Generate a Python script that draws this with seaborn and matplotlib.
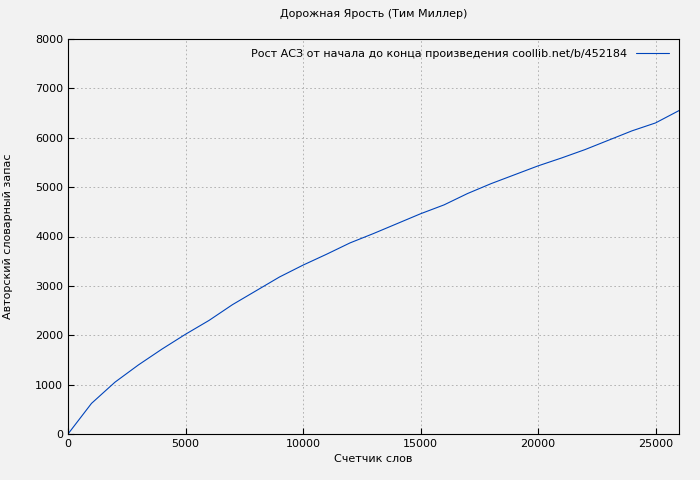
import matplotlib
matplotlib.use("Agg")
import matplotlib.pyplot as plt
import seaborn as sns
import pandas as pd

words = [0, 1000, 2000, 3000, 4000, 5000, 6000, 7000, 8000, 9000, 10000, 11000, 12000, 13000,
         14000, 15000, 16000, 17000, 18000, 19000, 20000, 21000, 22000, 23000, 24000, 25000, 26000]
vocab = [0, 620, 1050, 1400, 1720, 2020, 2300, 2620, 2900, 3180, 3420, 3640, 3870, 4060,
         4260, 4460, 4640, 4870, 5070, 5250, 5430, 5590, 5760, 5950, 6140, 6300, 6550]
label = "Рост АСЗ от начала до конца произведения coollib.net/b/452184"

sns.set_style("ticks")
plt.rcParams['font.family'] = ['DejaVu Sans']
plt.rcParams['text.color'] = 'black'
plt.rcParams['axes.labelcolor'] = 'black'
plt.rcParams['xtick.color'] = 'black'
plt.rcParams['ytick.color'] = 'black'
df = pd.DataFrame({"w": words, "v": vocab})
fig = plt.figure(figsize=(7, 4.8), dpi=100, facecolor="#f2f2f2")
ax = fig.add_axes([68/700, 46/480, 611/700, 395/480])
ax.set_facecolor("#f2f2f2")
sns.lineplot(data=df, x="w", y="v", ax=ax, color="#0044bb", linewidth=0.8, label=label)
ax.set_xlim(0, 26000)
ax.set_ylim(0, 8000)
ax.set_xticks(range(0, 26000, 5000))
ax.set_yticks(range(0, 8001, 1000))
ax.grid(True, linestyle=(0, (2, 3)), color="#aaaaaa", linewidth=0.6)
for s in ax.spines.values():
    s.set_color("black")
ax.tick_params(labelsize=8, direction="in", length=4)
ax.set_xlabel("Счетчик слов", fontsize=8)
ax.set_ylabel("Авторский словарный запас", fontsize=8, labelpad=16)
ax.set_title("Дорожная Ярость (Тим Миллер)", fontsize=8, pad=16)
leg = ax.legend(loc="upper right", fontsize=8, frameon=False, markerfirst=False, handlelength=3)
fig.savefig("out.png", dpi=100, facecolor=fig.get_facecolor())
